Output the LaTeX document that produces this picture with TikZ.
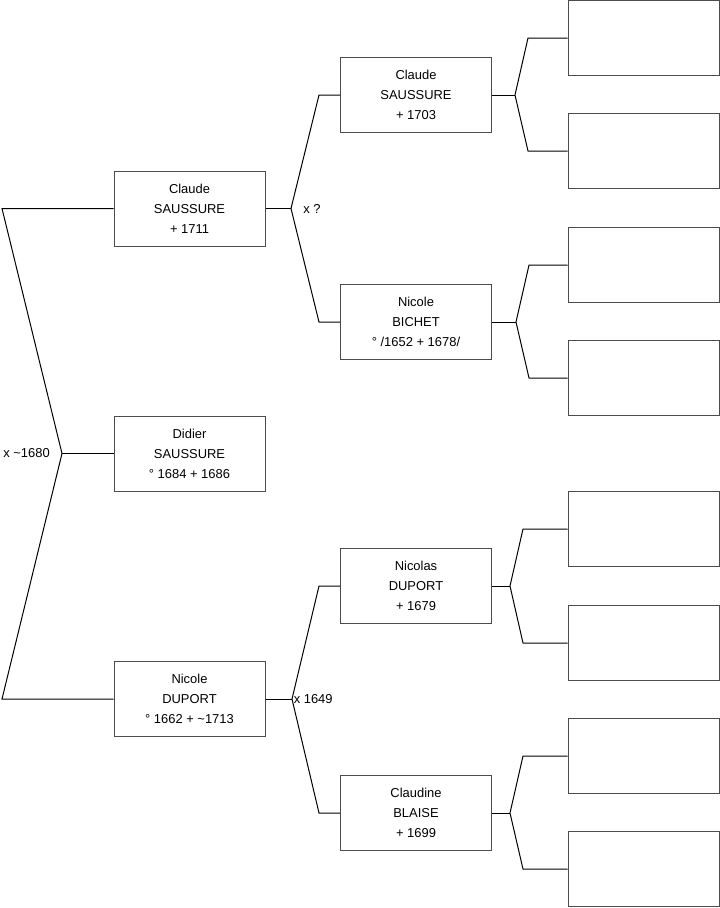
\documentclass[tikz,border=0pt]{standalone}
\usepackage{fontspec}
\setmainfont{Liberation Sans}
\usetikzlibrary{positioning}

\begin{document}
\begin{tikzpicture}[
x=0.75pt, y=-0.75pt,
box/.style={rectangle, draw=black!70, line width=0.75pt, minimum width=113.25pt,
minimum height=56.25pt, inner sep=0pt, align=center,
font=\fontsize{9.7}{15}\selectfont},
link/.style={line width=0.75pt},
union/.style={inner sep=0pt, font=\fontsize{9.7}{11}\selectfont}
]
\useasboundingbox (0,0) rectangle (719,908);

% first generation
\node[box] (claude) at (189.5,208.5) {Claude\\SAUSSURE\\+ 1711};
\node[box] (didier) at (189.5,453.5) {Didier\\SAUSSURE\\° 1684 + 1686};
\node[box] (nicole) at (189.5,699) {Nicole\\DUPORT\\° 1662 + \textasciitilde1713};

% second generation
\node[box] (claudeS) at (416,95) {Claude\\SAUSSURE\\+ 1703};
\node[box] (bichet) at (416,322) {Nicole\\BICHET\\° /1652 + 1678/};
\node[box] (nicolas) at (416,586) {Nicolas\\DUPORT\\+ 1679};
\node[box] (claudine) at (416,813) {Claudine\\BLAISE\\+ 1699};

% third generation (empty)
\foreach \i/\y in {1/38,2/151,3/265,4/378,5/529,6/643,7/756,8/869}
  \node[box] (e\i) at (643.5,\y) {};

% forks
\coordinate (v0) at (62,453.5);
\coordinate (k0a) at (2,208.5);
\coordinate (k0b) at (2,699);
\draw[link] (claude.west) -- (k0a) -- (v0) -- (k0b) -- (nicole.west);
\draw[link] (v0) -- (didier.west);
\node[union, anchor=east] (m0) at (50,453.5) {x \textasciitilde1680};

\coordinate (v1) at (291,208.5);
\coordinate (k1a) at (319,95);
\coordinate (k1b) at (319,322);
\draw[link] (claude.east) -- (v1);
\draw[link] (claudeS.west) -- (k1a) -- (v1) -- (k1b) -- (bichet.west);
\node[union, anchor=west] (m1) at (303,208.5) {x ?};

\coordinate (v2) at (292,699);
\coordinate (k2a) at (319,586);
\coordinate (k2b) at (319,813);
\draw[link] (nicole.east) -- (v2);
\draw[link] (nicolas.west) -- (k2a) -- (v2) -- (k2b) -- (claudine.west);
\node[union, anchor=west] (m2) at (293.5,699) {x 1649};

\coordinate (v3) at (515,95);
\coordinate (k3a) at (528,38);
\coordinate (k3b) at (528,151);
\draw[link] (claudeS.east) -- (v3);
\draw[link] (e1.west) -- (k3a) -- (v3) -- (k3b) -- (e2.west);

\coordinate (v4) at (516,322);
\coordinate (k4a) at (529,265);
\coordinate (k4b) at (529,378);
\draw[link] (bichet.east) -- (v4);
\draw[link] (e3.west) -- (k4a) -- (v4) -- (k4b) -- (e4.west);

\coordinate (v5) at (510,586);
\coordinate (k5a) at (523,529);
\coordinate (k5b) at (523,643);
\draw[link] (nicolas.east) -- (v5);
\draw[link] (e5.west) -- (k5a) -- (v5) -- (k5b) -- (e6.west);

\coordinate (v6) at (510,813);
\coordinate (k6a) at (523,756);
\coordinate (k6b) at (523,869);
\draw[link] (claudine.east) -- (v6);
\draw[link] (e7.west) -- (k6a) -- (v6) -- (k6b) -- (e8.west);
\end{tikzpicture}
\end{document}
